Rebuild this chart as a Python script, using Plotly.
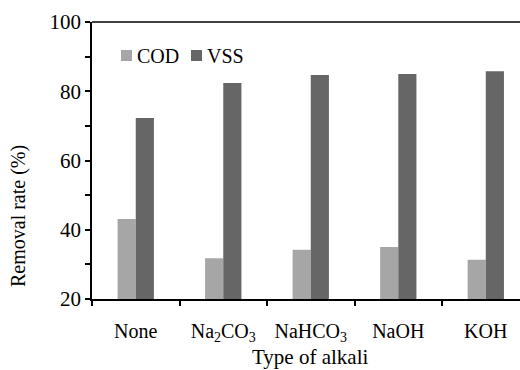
import plotly.graph_objects as go

categories = ["None", "Na<sub>2</sub>CO<sub>3</sub>", "NaHCO<sub>3</sub>", "NaOH", "KOH"]
series_names = ["COD", "VSS"]
cod = [43.1, 31.8, 34.2, 35.0, 31.3]
vss = [72.3, 82.4, 84.7, 85.0, 85.8]
colors = ["#a6a6a6", "#666666"]

FF = "Liberation Serif"
W, H = 520, 370
ML, MR, MT, MB = 92, 0, 22, 71
pw = W - ML - MR
ph = H - MT - MB

def px_x(x):
    return (x - ML) / pw

def px_y(y):
    return (H - MB - y) / ph

pos = list(range(len(categories)))
bounds = [p - 0.5 for p in pos] + [pos[-1] + 0.5]

fig = go.Figure()
for name, vals, col in zip(series_names, [cod, vss], colors):
    fig.add_trace(go.Bar(x=pos, y=vals, name=name, showlegend=False,
                         marker=dict(color=col, line=dict(width=0))))

leg_sq_x = [121, 191]
leg_tx_x = [135, 205]
for name, col, sx, tx in zip(series_names, colors, leg_sq_x, leg_tx_x):
    fig.add_shape(type="rect", xref="paper", yref="paper",
                  x0=px_x(sx), x1=px_x(sx + 11), y0=px_y(61), y1=px_y(50),
                  fillcolor=col, line=dict(width=0))
    fig.add_annotation(text=name, xref="paper", yref="paper", x=px_x(tx), y=px_y(55.5),
                       xanchor="left", yanchor="middle", showarrow=False,
                       font=dict(family=FF, size=20, color="black"))

fig.add_shape(type="line", xref="paper", yref="paper", x0=0, x1=1, y0=1, y1=1,
              line=dict(color="black", width=1.5))

fig.add_annotation(text="Type of alkali", xref="paper", yref="paper",
                   x=px_x(310), y=px_y(357), xanchor="center", yanchor="middle",
                   showarrow=False, font=dict(family=FF, size=21, color="black"))
fig.add_annotation(text="Removal rate (%)", xref="paper", yref="paper",
                   x=px_x(18), y=px_y(216), xanchor="center", yanchor="middle",
                   textangle=-90, showarrow=False,
                   font=dict(family=FF, size=20, color="black"))

fig.update_layout(
    width=W, height=H,
    margin=dict(l=ML, r=MR, t=MT, b=MB),
    paper_bgcolor="white", plot_bgcolor="white",
    barmode="group", bargap=0.585, bargroupgap=0,
    font=dict(family=FF, size=20, color="black"),
    showlegend=False,
    xaxis=dict(
        type="linear", range=[-0.5, 4.391],
        tickvals=pos, ticktext=categories, ticks="",
        minor=dict(tickvals=bounds, ticks="outside", ticklen=5,
                   tickcolor="black", tickwidth=1.5, showgrid=False),
        showline=True, linecolor="black", linewidth=1.5, mirror=False,
        showgrid=False, zeroline=False,
        ticklabelstandoff=13,
        tickfont=dict(family=FF, size=20, color="black"),
    ),
    yaxis=dict(
        range=[20, 100], tickvals=[20, 40, 60, 80, 100],
        showline=True, linecolor="black", linewidth=1.5, mirror=False,
        ticks="outside", ticklen=5, tickcolor="black", tickwidth=1.5,
        minor=dict(tickvals=[30, 50, 70, 90], ticks="outside", ticklen=5,
                   tickcolor="black", tickwidth=1.5),
        showgrid=False, zeroline=False,
        tickfont=dict(family=FF, size=21, color="black"),
    ),
)

fig.write_html("out.html")
